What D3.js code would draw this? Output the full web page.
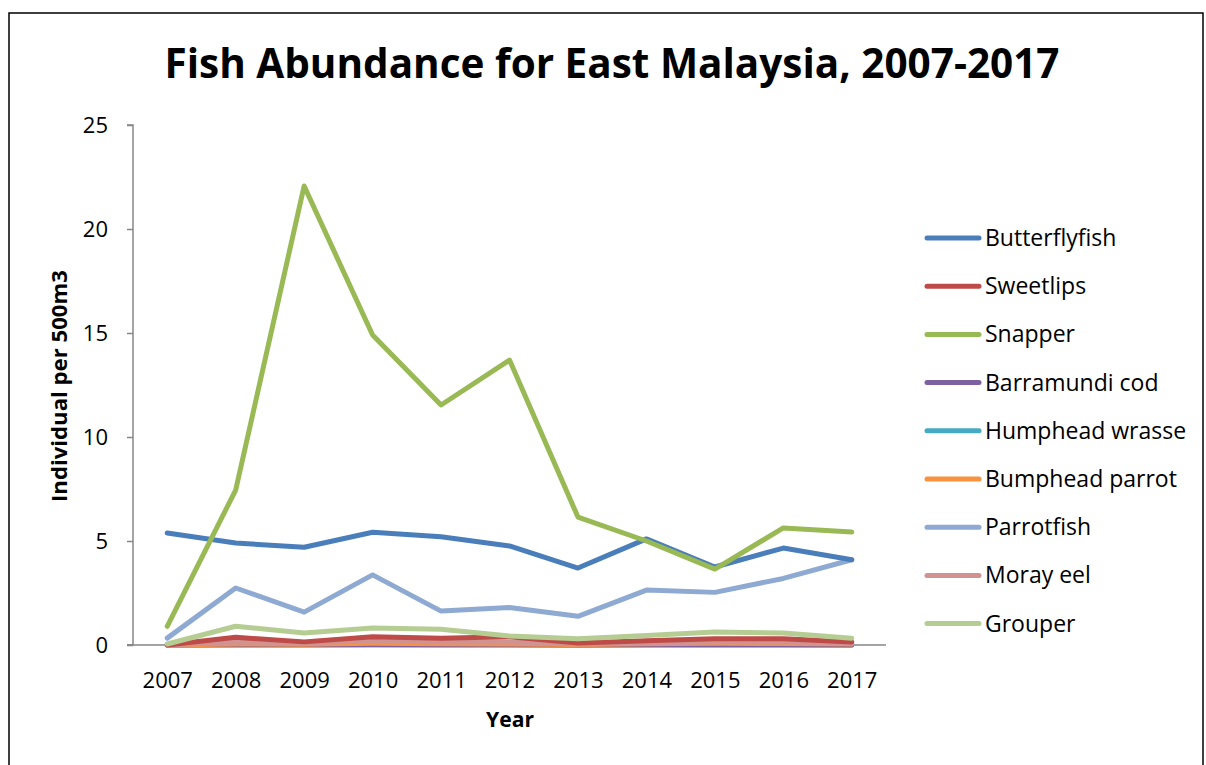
<!DOCTYPE html>
<html><head><meta charset="utf-8">
<script src="https://cdn.jsdelivr.net/npm/d3@7"></script>
<style>body{margin:0;background:#fff;} svg{display:block;} text{font-family:"Open Sans", sans-serif;}</style>
</head><body>
<svg id="c" width="1206" height="765"></svg>
<script>
const years = ["2007","2008","2009","2010","2011","2012","2013","2014","2015","2016","2017"];
const seriesNames = ["Butterflyfish","Sweetlips","Snapper","Barramundi cod","Humphead wrasse","Bumphead parrot","Parrotfish","Moray eel","Grouper"];
const seriesColors = ["#4A7EBB","#BE4B48","#98B954","#7D60A0","#46AAC5","#F69240","#8EA9D2","#D09392","#B5CD92"];
const butterflyfish = [5.38,4.9,4.7,5.42,5.2,4.76,3.7,5.1,3.75,4.66,4.1];
const sweetlips     = [0.0,0.37,0.15,0.4,0.32,0.4,0.1,0.2,0.3,0.3,0.15];
const snapper       = [0.9,7.45,22.07,14.9,11.54,13.7,6.15,5.0,3.65,5.63,5.43];
const barramundi    = [0.0,0.01,0.01,0.02,0.01,0.01,0.0,0.01,0.01,0.01,0.0];
const humphead      = [0.0,0.0,0.0,0.0,0.0,0.0,0.0,0.0,0.0,0.0,0.0];
const bumphead      = [0.0,0.05,0.04,0.08,0.06,0.05,0.02,0.06,0.08,0.07,0.05];
const parrotfish    = [0.33,2.74,1.58,3.37,1.63,1.8,1.38,2.64,2.53,3.2,4.1];
const morayEel      = [0.0,0.15,0.1,0.2,0.15,0.15,0.05,0.1,0.15,0.15,0.1];
const grouper       = [0.05,0.9,0.58,0.82,0.76,0.43,0.3,0.46,0.62,0.58,0.33];
const yTicks = [0,5,10,15,20,25];
const allValues = [butterflyfish,sweetlips,snapper,barramundi,humphead,bumphead,parrotfish,morayEel,grouper];

const svg = d3.select("#c");
svg.append("rect").attr("x",9).attr("y",13).attr("width",1194).attr("height",800)
  .attr("fill","none").attr("stroke","#000").attr("stroke-width",1.5);

const x = d3.scalePoint().domain(years).range([133,886]).padding(0.5);
const y = d3.scaleLinear().domain([0,25]).range([645,125]);

svg.append("text").attr("x",612).attr("y",78).attr("text-anchor","middle")
  .attr("font-size",42).attr("font-weight","bold").attr("textLength",895).attr("lengthAdjust","spacingAndGlyphs")
  .text("Fish Abundance for East Malaysia, 2007-2017");

// y axis
const yAxis = d3.axisLeft(y).tickValues(yTicks).tickSize(6).tickPadding(19);
const gy = svg.append("g").attr("transform","translate(133,0)").call(yAxis);
gy.select(".domain").attr("stroke","#868686").attr("stroke-width",1.5).attr("d","M-6,125H0V645H-6");
gy.selectAll(".tick line").attr("stroke","#868686").attr("stroke-width",1.5);
gy.selectAll(".tick text").attr("font-size",22).attr("fill","#000").style("font-family","'Open Sans', sans-serif");

// x axis
const xAxis = d3.axisBottom(x).tickSize(0).tickPadding(27);
const gx = svg.append("g").attr("transform","translate(0,645)").call(xAxis);
gx.select(".domain").attr("stroke","#868686").attr("stroke-width",1.5).attr("d","M127,0H886");
gx.selectAll(".tick text").attr("font-size",22).attr("fill","#000").style("font-family","'Open Sans', sans-serif");

// axis titles
svg.append("text").attr("x",510).attr("y",727).attr("text-anchor","middle").attr("font-size",21).attr("font-weight","bold")
  .attr("textLength",48).attr("lengthAdjust","spacingAndGlyphs").text("Year");
svg.append("text").attr("transform","translate(67,386) rotate(-90)").attr("text-anchor","middle").attr("font-size",21).attr("font-weight","bold")
  .attr("textLength",232).attr("lengthAdjust","spacingAndGlyphs").text("Individual per 500m3");

const line = d3.line().x((d,i)=>x(years[i])).y(d=>y(d));
const order = [4,3,5,7,1,8,6,0,2];
order.forEach(k=>{
  svg.append("path").attr("d",line(allValues[k])).attr("fill","none")
    .attr("stroke",seriesColors[k]).attr("stroke-width",5).attr("stroke-linejoin","round").attr("stroke-linecap","round");
});

// legend
const leg = svg.append("g");
seriesNames.forEach((n,i)=>{
  const yy = 238 + i*48.2;
  leg.append("line").attr("x1",927).attr("x2",979).attr("y1",yy).attr("y2",yy)
    .attr("stroke",seriesColors[i]).attr("stroke-width",5).attr("stroke-linecap","round");
  leg.append("text").attr("x",985).attr("y",yy+8).attr("font-size",23).text(n);
});
</script>
</body></html>
